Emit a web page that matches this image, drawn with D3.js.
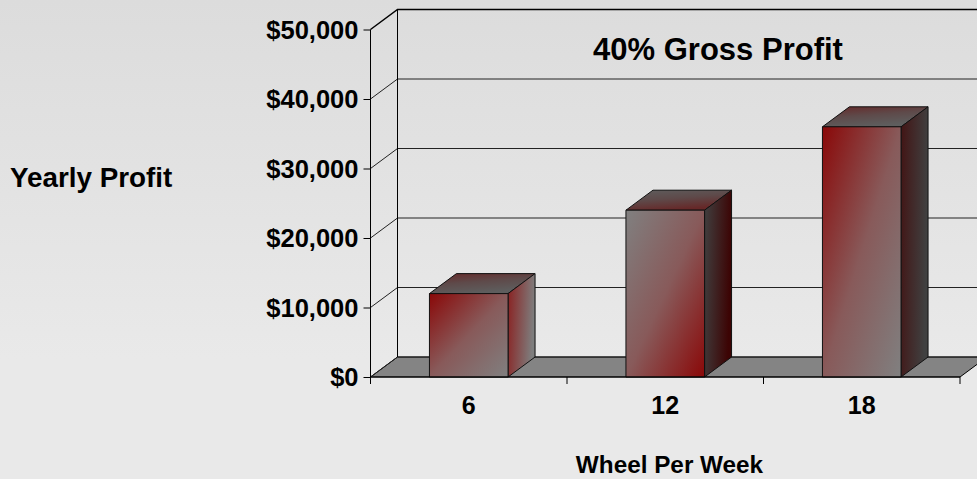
<!DOCTYPE html>
<html>
<head>
<meta charset="utf-8">
<script src="https://cdn.jsdelivr.net/npm/d3@7"></script>
<style>
    html, body { margin: 0; padding: 0; overflow: hidden; }
    svg { display: block; }
    text { font-family: "Liberation Sans", Arial, sans-serif; font-weight: bold; fill: #000; }
</style>
</head>
<body>
<div id="chart"></div>
<script>
const wheels = ["6", "12", "18"];
const profit = [12000, 24000, 36000];
const yTicks = [0, 10000, 20000, 30000, 40000, 50000];

const chartTitle = "40% Gross Profit";
const xTitle = "Wheel Per Week";
const yTitle = "Yearly Profit";

const width = 977, height = 479;
const plotLeft = 370.5, plotBottom = 377, plotTop = 29.5, plotRight = 960;
const depthX = 27, depthY = -20;

const svg = d3.select("#chart").append("svg")
    .attr("width", width)
    .attr("height", height);

const defs = svg.append("defs");

function gradient(id, colors, x2, y2) {
    let g = defs.append("linearGradient")
        .attr("id", id)
        .attr("x1", 0).attr("y1", 0)
        .attr("x2", x2).attr("y2", y2);
    colors.forEach((c, i) => {
        g.append("stop")
            .attr("offset", (100 * i / (colors.length - 1)) + "%")
            .attr("stop-color", c);
    });
}

gradient("bg", ["#dcdcdc", "#e9e9e9"], 0, 0.75);

// face gradients, the middle bar runs the other way round
const red = "#8a0808", mid = "#885a5a", gray = "#808080";
gradient("front0", [red, mid, gray], 1, 1);
gradient("front1", [gray, mid, red], 1, 1);
gradient("front2", [red, mid, gray], 1, 1);
gradient("side0", ["#8a2020", "#7e7e7e"], 1, 0.2);
gradient("side1", ["#404040", "#3c0404"], 1, 0.2);
gradient("side2", ["#421414", "#404040"], 1, 0.2);
gradient("top0", ["#662828", "#5e4a4a", "#5e5e5e"], 0.4, 1);
gradient("top1", ["#5e5e5e", "#5e4a4a", "#662828"], 0.4, 1);
gradient("top2", ["#662828", "#5e4a4a", "#5e5e5e"], 0.4, 1);

svg.append("rect")
    .attr("width", width)
    .attr("height", height)
    .attr("fill", "url(#bg)");

let x = d3.scaleBand().domain(wheels).range([plotLeft, plotRight]);
let y = d3.scaleLinear().domain([0, 50000]).range([plotBottom, plotTop]);
let barWidth = x.bandwidth() * 0.4;

// floor
svg.append("path")
    .attr("d", d3.line()([
        [plotLeft, plotBottom], [plotLeft + depthX, plotBottom + depthY],
        [plotRight + depthX, plotBottom + depthY], [plotRight, plotBottom]
    ]) + "Z")
    .attr("fill", "#848484")
    .attr("stroke", "#000")
    .attr("stroke-width", 1);

// gridlines along the left and back walls
let grid = svg.append("g");
yTicks.forEach(t => {
    let isTop = t === yTicks[yTicks.length - 1];
    grid.append("path")
        .attr("d", d3.line()([
            [plotLeft, y(t)], [plotLeft + depthX, y(t) + depthY], [plotRight + depthX, y(t) + depthY]
        ]))
        .attr("fill", "none")
        .attr("stroke", isTop ? "#000" : "#222")
        .attr("stroke-width", isTop ? 1.5 : 1);
});

grid.append("line")
    .attr("x1", plotLeft + depthX).attr("x2", plotLeft + depthX)
    .attr("y1", y(0) + depthY).attr("y2", y(50000) + depthY)
    .attr("stroke", "#000");

// bars
let bars = svg.selectAll("g.bar")
    .data(wheels.map((w, i) => ({ wheel: w, value: profit[i], i: i })))
    .enter().append("g")
    .attr("class", "bar")
    .attr("stroke", "#111")
    .attr("stroke-width", 1)
    .attr("stroke-linejoin", "round");

let barLeft = d => x(d.wheel) + (x.bandwidth() - barWidth) / 2;

bars.append("path")
    .attr("fill", d => `url(#top${d.i})`)
    .attr("d", d => d3.line()([
        [barLeft(d), y(d.value)],
        [barLeft(d) + depthX, y(d.value) + depthY],
        [barLeft(d) + barWidth + depthX, y(d.value) + depthY],
        [barLeft(d) + barWidth, y(d.value)]
    ]) + "Z");

bars.append("path")
    .attr("fill", d => `url(#side${d.i})`)
    .attr("d", d => d3.line()([
        [barLeft(d) + barWidth, y(d.value)],
        [barLeft(d) + barWidth + depthX, y(d.value) + depthY],
        [barLeft(d) + barWidth + depthX, y(0) + depthY],
        [barLeft(d) + barWidth, y(0)]
    ]) + "Z");

bars.append("rect")
    .attr("fill", d => `url(#front${d.i})`)
    .attr("x", barLeft)
    .attr("y", d => y(d.value))
    .attr("width", barWidth)
    .attr("height", d => y(0) - y(d.value));

// axes
let yAxis = d3.axisLeft(y)
    .tickValues(yTicks)
    .tickFormat(d3.format("$,.0f"))
    .tickSize(7)
    .tickPadding(5);

let gy = svg.append("g")
    .attr("transform", `translate(${plotLeft},0)`)
    .call(yAxis);
gy.select(".domain").attr("d", `M0,${y(50000)}V${y(0)}`).attr("stroke", "#000");
gy.selectAll("line").attr("stroke", "#000");
gy.selectAll("text").attr("dy", "0.34em").style("font-size", "25.5px");
gy.attr("font-family", null).attr("font-size", null);

let xAxis = d3.axisBottom(x).tickSize(0).tickPadding(19);
let gx = svg.append("g")
    .attr("transform", `translate(0,${plotBottom})`)
    .call(xAxis);
gx.select(".domain").attr("d", `M${plotLeft},0H${plotRight}`).attr("stroke", "#000");
gx.selectAll("text").style("font-size", "25px");
gx.attr("font-family", null).attr("font-size", null);

// x ticks sit on the band edges
wheels.concat("end").forEach((w, i) => {
    let px = plotLeft + i * x.step();
    gx.append("line")
        .attr("x1", px).attr("x2", px)
        .attr("y1", 0).attr("y2", 7)
        .attr("stroke", "#000");
});

svg.append("text")
    .attr("x", 718).attr("y", 60)
    .attr("text-anchor", "middle")
    .style("font-size", "31px")
    .text(chartTitle);

svg.append("text")
    .attr("x", 669.5).attr("y", 473)
    .attr("text-anchor", "middle")
    .style("font-size", "24.3px")
    .text(xTitle);

svg.append("text")
    .attr("x", 10).attr("y", 187)
    .style("font-size", "27.8px")
    .text(yTitle);
</script>
</body>
</html>
